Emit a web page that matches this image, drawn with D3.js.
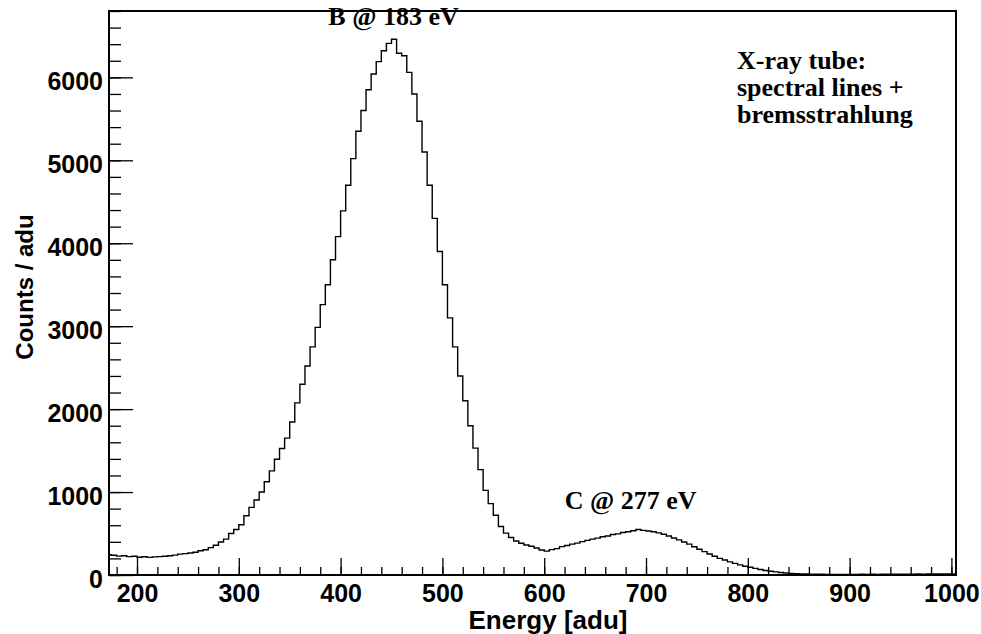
<!DOCTYPE html>
<html>
<head>
<meta charset="utf-8">
<script src="https://cdn.jsdelivr.net/npm/d3@7"></script>
<style>
  body { margin: 0; background: #fff; }
  svg { display: block; }
</style>
</head>
<body>
<svg width="981" height="634"></svg>
<script>
// histogram: bins of 5 adu starting at 170
const binStart = 170;
const binWidth = 5;
const counts = [
  245, 238, 228, 232, 222, 226, 214, 220,
  212, 218, 222, 226, 232, 240, 252, 258,
  266, 275, 292, 305, 330, 358, 398, 432,
  500, 548, 605, 715, 815, 905, 1000, 1125,
  1255, 1395, 1525, 1650, 1845, 2075, 2300, 2520,
  2750, 2985, 3260, 3500, 3800, 4080, 4390, 4700,
  5020, 5350, 5600, 5850, 6040, 6190, 6320, 6410,
  6460, 6290, 6260, 6060, 5800, 5470, 5100, 4700,
  4300, 3900, 3500, 3100, 2750, 2400, 2100, 1800,
  1530, 1270, 1020, 860, 720, 585, 505, 452,
  410, 382, 362, 346, 326, 302, 288, 306,
  318, 342, 356, 372, 384, 402, 418, 432,
  444, 462, 470, 488, 496, 512, 522, 534,
  548, 538, 530, 522, 508, 492, 470, 446,
  424, 398, 372, 340, 310, 282, 254, 226,
  200, 180, 158, 140, 122, 106, 94, 80,
  66, 55, 46, 38, 31, 25, 20, 16,
  13, 12, 10, 9, 9, 8, 8, 7,
  8, 7, 8, 7, 9, 8, 9, 8,
  9, 10, 9, 10, 11, 10, 11, 12,
  11, 12, 13, 12, 13, 14, 13
];

const xMajor = [200, 300, 400, 500, 600, 700, 800, 900, 1000];
const xMinor = d3.range(180, 1001, 20);
const yMajor = [0, 1000, 2000, 3000, 4000, 5000, 6000];
const yMinor = d3.range(0, 6801, 200);

const annotations = [
  { text: "B @ 183 eV", x: 452, y: 6630 },
  { text: "C @ 277 eV", x: 685, y: 800 }
];
const infoLines = ["X-ray tube:", "spectral lines +", "bremsstrahlung"];

const svg = d3.select("svg");
const margin = { top: 11, right: 25, bottom: 59, left: 109 };
const width = +svg.attr("width") - margin.left - margin.right;
const height = +svg.attr("height") - margin.top - margin.bottom;
const g = svg.append("g").attr("transform", `translate(${margin.left},${margin.top})`);

const x = d3.scaleLinear().domain([172.5, 1004.5]).range([0, width]);
const y = d3.scaleLinear().domain([0, 6800]).range([height, 0]);

const sans = "'Liberation Sans', Arial, Helvetica, sans-serif";
const serif = "'Liberation Serif', 'Times New Roman', Times, serif";

// clip for the histogram
svg.append("defs").append("clipPath").attr("id", "frame")
  .append("rect").attr("width", width).attr("height", height);

// step path
let d = `M${x(binStart)},${y(counts[0])}`;
counts.forEach((c, i) => {
  const x1 = x(binStart + (i + 1) * binWidth);
  d += `V${y(c)}H${x1}`;
});

g.append("path")
  .attr("clip-path", "url(#frame)")
  .attr("d", d)
  .attr("fill", "none")
  .attr("stroke", "#000")
  .attr("stroke-width", 1.4);

// axes, ticks pointing inward
g.append("g")
  .attr("transform", `translate(0,${height})`)
  .call(d3.axisBottom(x).tickValues(xMajor).tickSize(-17).tickPadding(9).tickFormat(d3.format("d")));
g.append("g")
  .attr("transform", `translate(0,${height})`)
  .call(d3.axisBottom(x).tickValues(xMinor).tickSize(-8).tickFormat(""));

const yAxis = g.append("g")
  .call(d3.axisLeft(y).tickValues(yMajor).tickSize(-24).tickPadding(6).tickFormat(d3.format("d")));
g.append("g")
  .call(d3.axisLeft(y).tickValues(yMinor).tickSize(-12).tickFormat(""));

g.selectAll(".domain").remove();
g.selectAll(".tick line").attr("stroke", "#000").attr("stroke-width", 1.3);
g.selectAll(".tick text")
  .attr("fill", "#000")
  .style("font-family", sans)
  .style("font-weight", "bold")
  .style("font-size", "25px");
yAxis.selectAll(".tick text").attr("dy", "0.48em");

// frame
g.append("rect")
  .attr("width", width)
  .attr("height", height)
  .attr("fill", "none")
  .attr("stroke", "#000")
  .attr("stroke-width", 2);

// axis titles
svg.append("text")
  .attr("x", 548)
  .attr("y", 629)
  .attr("text-anchor", "middle")
  .style("font-family", sans)
  .style("font-weight", "bold")
  .style("font-size", "26px")
  .text("Energy [adu]");

svg.append("text")
  .attr("transform", "translate(33,287) rotate(-90)")
  .attr("text-anchor", "middle")
  .style("font-family", sans)
  .style("font-weight", "bold")
  .style("font-size", "24px")
  .text("Counts / adu");

// peak labels
g.selectAll("text.ann")
  .data(annotations)
  .join("text")
    .attr("class", "ann")
    .attr("x", a => x(a.x))
    .attr("y", a => y(a.y))
    .attr("text-anchor", "middle")
    .style("font-family", serif)
    .style("font-weight", "bold")
    .style("font-size", "26px")
    .text(a => a.text);

const info = svg.append("text")
  .attr("x", 737)
  .attr("y", 69)
  .style("font-family", serif)
  .style("font-weight", "bold")
  .style("font-size", "26px");
infoLines.forEach((t, i) => {
  info.append("tspan").attr("x", 737).attr("dy", i === 0 ? 0 : 27).text(t);
});
</script>
</body>
</html>
